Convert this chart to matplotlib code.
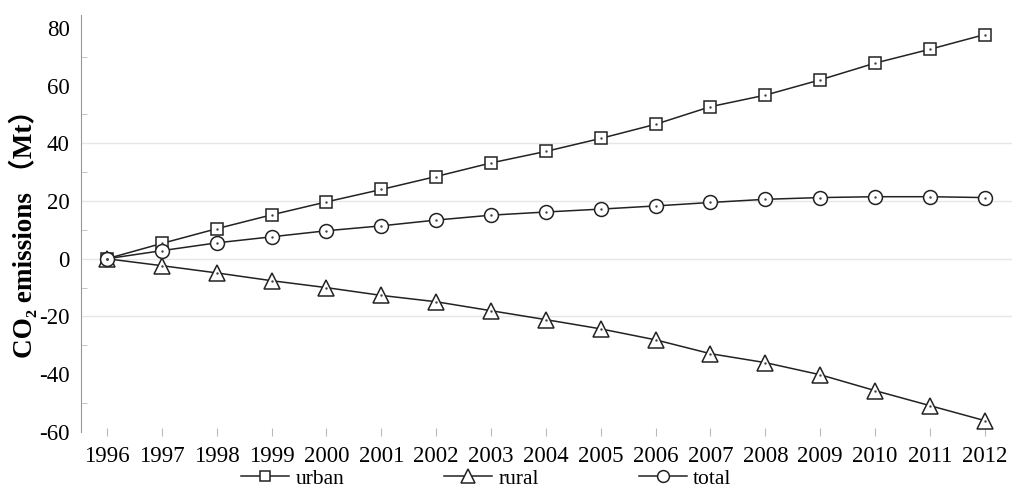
import numpy as np
import matplotlib
matplotlib.use("Agg")
import matplotlib.pyplot as plt

# ---------------------------------------------------------------
# Données
# ---------------------------------------------------------------
years = list(range(1996, 2013))
urban = [0, 5.3, 10.4, 15.2, 19.7, 24.0, 28.5, 33.2, 37.2, 41.7, 46.6, 52.7, 56.7, 62.0, 67.8, 72.6, 77.7]
rural = [0, -2.4, -4.9, -7.6, -10.0, -12.7, -14.9, -18.0, -21.1, -24.3, -28.1, -32.9, -36.0, -40.2, -45.7, -50.9, -56.1]
total = [0, 2.8, 5.5, 7.6, 9.7, 11.4, 13.4, 15.1, 16.2, 17.2, 18.3, 19.5, 20.6, 21.2, 21.5, 21.5, 21.2]
series_names = ["urban", "rural", "total"]
y_ticks = [-60, -40, -20, 0, 20, 40, 60, 80]
grid_levels = [-20, 0, 20, 40]

plt.rcParams['font.family'] = ['Liberation Serif', 'Noto Sans CJK SC', 'DejaVu Sans']
plt.rcParams['axes.unicode_minus'] = False

fig = plt.figure(figsize=(10.24, 4.97), dpi=100)
ax = fig.add_axes([0.079, 0.131, 0.909, 0.839])

styles = [("s", 9), ("^", 12), ("o", 10)]
handles = []
for vals, name, (mk, ms) in zip([urban, rural, total], series_names, styles):
    h, = ax.plot(years, vals, marker=mk, ms=ms, mfc="white", mec="#222222", mew=1.1,
                 color="#222222", lw=1.1, label=name, zorder=3)
    ax.plot(years, vals, ".", ms=1.5, color="#444444", zorder=4)
    handles.append(h)

for g in grid_levels:
    ax.axhline(g, color="#e6e6e6", lw=1, zorder=1)

ax.set_xlim(1995.526, 2012.49)
ax.set_ylim(-60, 84.5)
ax.set_xticks(years)
ax.set_yticks(y_ticks)
ax.set_yticks(np.arange(-50, 81, 10), minor=True)
ax.tick_params(axis="x", labelsize=16.5, color="#bbbbbb", length=6, direction="inout", pad=7)
ax.tick_params(axis="y", which="major", labelsize=16.5, length=0, pad=8)
ax.tick_params(axis="y", which="minor", length=4, color="#bbbbbb", direction="in")

for side in ["top", "right", "bottom"]:
    ax.spines[side].set_visible(False)
ax.spines["left"].set_color("#999999")

ax.set_ylabel("CO₂ emissions （Mt）", fontsize=19.5, fontweight="bold")
ax.yaxis.set_label_coords(-0.046, 0.49)

fig.legend(handles=handles, labels=series_names, loc="center", bbox_to_anchor=(0.475, 0.037),
           ncol=3, frameon=False, fontsize=15.5, handlelength=2.23, handletextpad=0.28,
           columnspacing=4.65, numpoints=1, markerscale=0.85)

fig.savefig("out.png", dpi=100)
